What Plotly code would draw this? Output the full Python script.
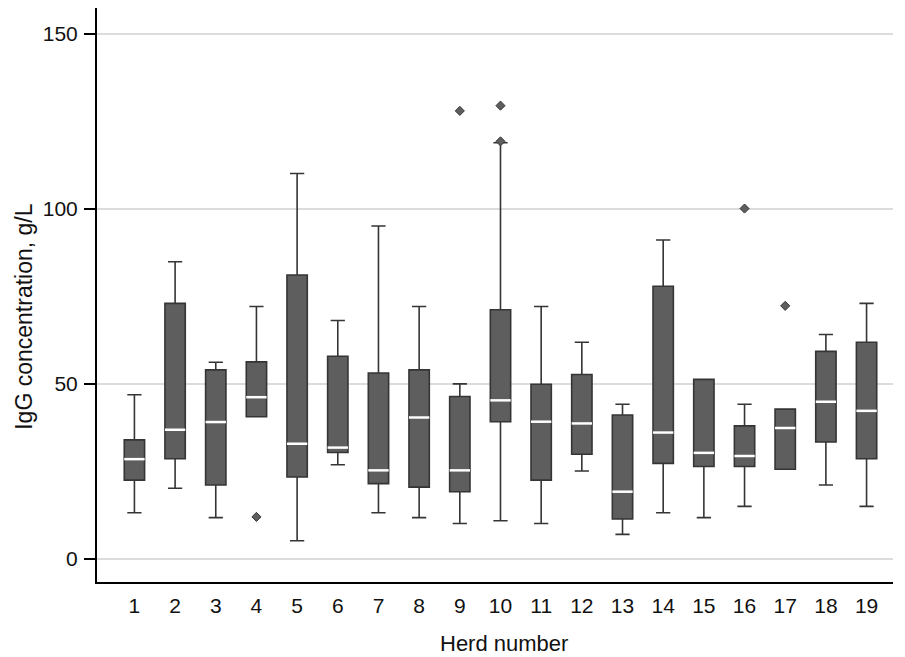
import plotly.graph_objects as go

herds = list(range(1, 20))
q1 = [22.5, 28.6, 21.1, 40.6, 23.4, 30.4, 21.5, 20.5, 19.2, 39.2, 22.5, 29.9, 11.4, 27.3, 26.4, 26.4, 25.6, 33.4, 28.6]
median = [28.5, 36.9, 39.1, 46.2, 32.9, 31.8, 25.3, 40.4, 25.3, 45.3, 39.2, 38.7, 19.2, 36.1, 30.3, 29.4, 37.4, 44.9, 42.3]
q3 = [34.0, 73.0, 54.0, 56.3, 81.1, 57.9, 53.1, 54.0, 46.4, 71.2, 49.9, 52.7, 41.1, 77.9, 51.3, 38.0, 42.8, 59.3, 61.9]
lower_whisker = [13.2, 20.2, 11.8, 40.6, 5.2, 26.9, 13.2, 11.8, 10.1, 10.9, 10.1, 25.1, 7.0, 13.2, 11.8, 15.0, 25.6, 21.1, 15.0]
upper_whisker = [46.9, 84.9, 56.2, 72.1, 110.1, 68.1, 95.1, 72.1, 50.0, 118.9, 72.1, 61.9, 44.2, 91.1, 51.3, 44.2, 42.8, 64.1, 73.0]
outlier_herd = [4, 9, 10, 10, 16, 17]
outlier_value = [12.0, 128.0, 119.3, 129.5, 100.1, 72.3]

tick_vals = [0, 50, 100, 150]
x_title = "Herd number"
y_title = "IgG concentration, g/L"

FILL = "#5e5e5e"
EDGE = "#353535"
FONT = "Liberation Sans, Arial, sans-serif"

fig = go.Figure()
fig.add_trace(go.Box(
    x=herds, q1=q1, median=median, q3=q3,
    lowerfence=lower_whisker, upperfence=upper_whisker,
    width=0.5, whiskerwidth=0.7,
    fillcolor=FILL, line=dict(color=EDGE, width=1.6),
    boxpoints=False, showlegend=False, hoverinfo="skip",
))

# white median bars
mx, my = [], []
for h, m in zip(herds, median):
    mx += [h - 0.25, h + 0.25, None]
    my += [m, m, None]
fig.add_trace(go.Scatter(x=mx, y=my, mode="lines",
                         line=dict(color="white", width=2.5),
                         showlegend=False, hoverinfo="skip"))

fig.add_trace(go.Scatter(x=outlier_herd, y=outlier_value, mode="markers",
                         marker=dict(symbol="diamond", size=7, color=FILL,
                                     line=dict(color=EDGE, width=1)),
                         showlegend=False, hoverinfo="skip"))

# page has an 8px body margin, so the figure is sized to fit the window
fig.update_layout(
    width=897, height=649,
    margin=dict(l=89, r=12, t=0, b=75),
    paper_bgcolor="white", plot_bgcolor="white",
    font=dict(family=FONT, color="#111111", size=21),
    xaxis=dict(
        range=[0.08, 19.65], tickmode="array", tickvals=herds,
        ticktext=[str(h) for h in herds],
        showgrid=False, zeroline=False, automargin=False,
        showline=True, linecolor="black", linewidth=2,
        ticks="", ticklabelstandoff=4,
    ),
    yaxis=dict(
        range=[-6.6, 157.4], tickmode="array", tickvals=tick_vals,
        showgrid=True, gridcolor="#dcdcdc", gridwidth=1.5,
        zeroline=False, automargin=False,
        showline=True, linecolor="black", linewidth=2,
        ticks="outside", ticklen=11, tickcolor="black", tickwidth=1.5,
        ticklabelstandoff=2,
    ),
    annotations=[
        dict(text=x_title, xref="paper", yref="paper", x=0.5114, y=-0.1063,
             xanchor="center", yanchor="middle", showarrow=False,
             font=dict(size=22)),
        dict(text=y_title, xref="paper", yref="paper", x=-0.092, y=0.4634,
             xanchor="center", yanchor="middle", textangle=-90, showarrow=False,
             font=dict(size=23)),
    ],
)

fig.write_html("out.html")
